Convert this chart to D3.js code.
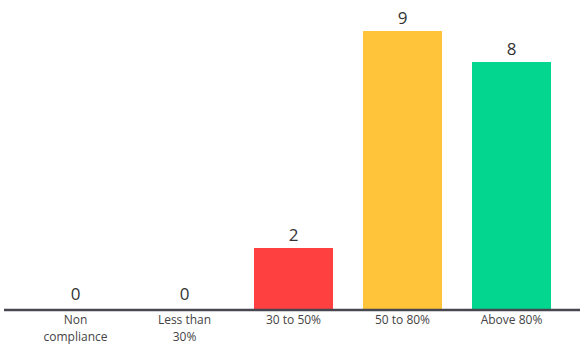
<!DOCTYPE html>
<html>
<head>
<meta charset="utf-8">
<script src="https://cdn.jsdelivr.net/npm/d3@7"></script>
<style>
  body { margin: 0; background: #fff; }
  svg { display: block; font-family: "Open Sans", sans-serif; }
</style>
</head>
<body>
<svg width="584" height="345"></svg>
<script>
const categories = ["Non compliance", "Less than 30%", "30 to 50%", "50 to 80%", "Above 80%"]
const values = [0, 0, 2, 9, 8]
const colors = ["#ff4040", "#ff4040", "#ff4040", "#ffc43a", "#02d68f"]

const svg = d3.select("svg")
const base = 310

const x = d3.scaleBand()
    .domain(categories)
    .range([21, 566])
    .paddingInner(0.275)
    .paddingOuter(0.1375)

const y = d3.scaleLinear()
    .domain([0, 9])
    .range([base, 31])

// bars
svg.append("g")
    .selectAll("rect")
    .data(values)
    .join("rect")
    .attr("x", (d, i) => x(categories[i]))
    .attr("width", x.bandwidth())
    .attr("y", d => y(d))
    .attr("height", d => base - y(d))
    .attr("fill", (d, i) => colors[i])

// value labels
svg.append("g")
    .selectAll("text")
    .data(values)
    .join("text")
    .attr("x", (d, i) => x(categories[i]) + x.bandwidth() / 2)
    .attr("y", d => y(d) - (d ? 7 : 10))
    .attr("text-anchor", "middle")
    .attr("font-size", 17)
    .attr("fill", "#333")
    .text(d => d)

// baseline
svg.append("line")
    .attr("x1", 4).attr("x2", 580)
    .attr("y1", base).attr("y2", base)
    .attr("stroke", "#474752")
    .attr("stroke-width", 2.5)

// category labels, wrapped like the original
const wrapped = {
    "Non compliance": ["Non", "compliance"],
    "Less than 30%": ["Less than", "30%"],
}
const labels = svg.append("g")
    .selectAll("text")
    .data(categories)
    .join("text")
    .attr("x", d => x(d) + x.bandwidth() / 2)
    .attr("y", 324)
    .attr("text-anchor", "middle")
    .attr("font-size", 12)
    .attr("fill", "#444")

labels.selectAll("tspan")
    .data(d => wrapped[d] || [d])
    .join("tspan")
    .attr("x", function () { return d3.select(this.parentNode).attr("x") })
    .attr("dy", (d, i) => i ? 17 : 0)
    .text(d => d)
</script>
</body>
</html>
